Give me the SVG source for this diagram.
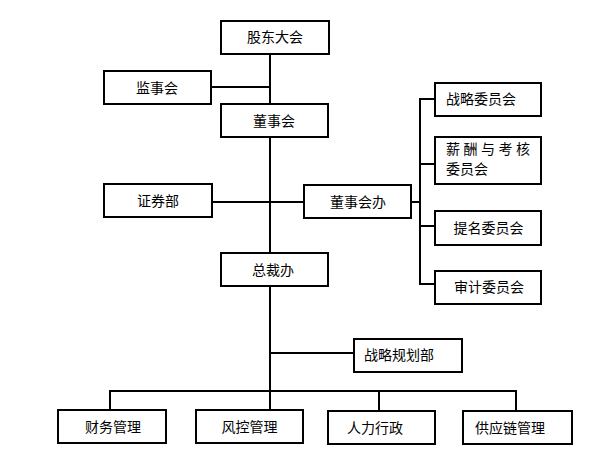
<svg xmlns="http://www.w3.org/2000/svg" width="590" height="467" viewBox="0 0 590 467">
<style>
.box{fill:#fff;stroke:#000;stroke-width:2}
.lbl{font-family:"Noto Sans CJK SC","Liberation Sans",sans-serif;font-size:14px;fill:#000}
.c{text-anchor:middle}
.conn{fill:none;stroke:#000;stroke-width:2}
</style>
<rect width="590" height="467" fill="#fff"/>
<g id="connectors" class="conn">
<path d="M270 54V104"/>
<path d="M211 87H270"/>
<path d="M270 137V253"/>
<path d="M212 202H304"/>
<path d="M411 202H420"/>
<path d="M435 99H420V284H435"/>
<path d="M420 164H435"/>
<path d="M420 226H435"/>
<path d="M270 286V410"/>
<path d="M270 353H354"/>
<path d="M110 410V391H516V411"/>
<path d="M379 391V411"/>
</g>
<g id="gudong"><rect class="box" x="221" y="21" width="108" height="33"/><text class="lbl c" x="275" y="42">股东大会</text></g>
<g id="jianshi"><rect class="box" x="104" y="71" width="107" height="33"/><text class="lbl c" x="157" y="93">监事会</text></g>
<g id="dongshi"><rect class="box" x="221" y="104" width="107" height="33"/><text class="lbl c" x="274" y="126">董事会</text></g>
<g id="zhengquan"><rect class="box" x="104" y="184" width="108" height="33"/><text class="lbl c" x="158" y="206">证券部</text></g>
<g id="dongshiban"><rect class="box" x="304" y="185" width="107" height="33"/><text class="lbl c" x="358" y="207">董事会办</text></g>
<g id="zongcai"><rect class="box" x="221" y="253" width="107" height="33"/><text class="lbl c" x="273" y="275">总裁办</text></g>
<g id="zhanlue-wyh"><rect class="box" x="435" y="83" width="106" height="33"/><text class="lbl" x="446" y="104">战略委员会</text></g>
<g id="xinchou-wyh"><rect class="box" x="435" y="137" width="106" height="47"/><text class="lbl" x="446" y="154" letter-spacing="3.5">薪酬与考核</text><text class="lbl" x="446" y="174">委员会</text></g>
<g id="timing-wyh"><rect class="box" x="435" y="211" width="106" height="34"/><text class="lbl c" x="488.5" y="233">提名委员会</text></g>
<g id="shenji-wyh"><rect class="box" x="435" y="271" width="106" height="33"/><text class="lbl c" x="489" y="292">审计委员会</text></g>
<g id="zhanlueguihua"><rect class="box" x="354" y="339" width="108" height="33"/><text class="lbl" x="364" y="360">战略规划部</text></g>
<g id="caiwu"><rect class="box" x="58" y="410" width="108" height="33"/><text class="lbl c" x="113" y="432">财务管理</text></g>
<g id="fengkong"><rect class="box" x="196" y="410" width="107" height="33"/><text class="lbl c" x="249.5" y="432">风控管理</text></g>
<g id="renli"><rect class="box" x="328" y="411" width="107" height="33"/><text class="lbl" x="347" y="433">人力行政</text></g>
<g id="gongying"><rect class="box" x="463" y="411" width="109" height="33"/><text class="lbl" x="475" y="433">供应链管理</text></g>
</svg>
